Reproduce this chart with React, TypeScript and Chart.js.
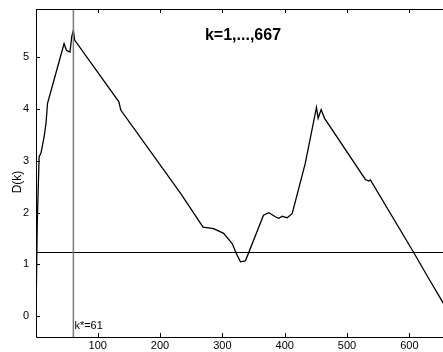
import React, { useEffect, useRef } from "react";
import { Chart, registerables } from "chart.js";

Chart.register(...registerables);

const kValues = [1, 3, 6, 9, 14, 17, 19.5, 46, 50, 55.5, 58.3, 61, 63, 134, 137, 233, 269, 286, 302, 316, 322, 329, 337, 366, 374.5, 385, 390.6, 396, 404, 412, 433, 451, 453.7, 458.5, 464, 529.5, 535, 537.5, 607, 632.5, 667];
const dValues = [0, 1.8, 3.08, 3.15, 3.46, 3.72, 4.11, 5.26, 5.13, 5.1, 5.39, 5.52, 5.33, 4.14, 3.98, 2.37, 1.72, 1.69, 1.6, 1.4, 1.22, 1.05, 1.07, 1.95, 2.0, 1.92, 1.89, 1.93, 1.9, 1.98, 2.95, 4.03, 3.82, 3.99, 3.82, 2.64, 2.61, 2.63, 1.23, 0.7, 0.0];
const xTicks = [100, 200, 300, 400, 500, 600];
const yTicks = [0, 1, 2, 3, 4, 5];
const kStar = 61;
const threshold = 1.236;
const titleText = "k=1,...,667";
const kStarLabel = "k*=61";
const yAxisLabel = "D(k)";

const FONT = "'Liberation Sans', Arial, Helvetica, sans-serif";

export default function App() {
  const ref = useRef<HTMLCanvasElement | null>(null);
  useEffect(() => {
    const canvas = ref.current;
    if (!canvas) return;
    const overlay = {
      id: "overlay",
      afterDraw(chart: any) {
        const ctx = chart.ctx;
        const xs = chart.scales.x;
        const ys = chart.scales.y;
        const a = chart.chartArea;
        ctx.save();
        // threshold line
        ctx.strokeStyle = "#000";
        ctx.lineWidth = 1;
        const hy = Math.round(ys.getPixelForValue(threshold)) + 0.5;
        ctx.beginPath();
        ctx.moveTo(a.left, hy);
        ctx.lineTo(a.right, hy);
        ctx.stroke();
        // k* vertical
        ctx.strokeStyle = "#7a7a7a";
        ctx.lineWidth = 1.5;
        const vx = xs.getPixelForValue(kStar);
        ctx.beginPath();
        ctx.moveTo(vx, a.top);
        ctx.lineTo(vx, a.bottom);
        ctx.stroke();
        // axes border
        ctx.strokeStyle = "#000";
        ctx.lineWidth = 1;
        ctx.beginPath();
        ctx.moveTo(a.left + 0.5, a.top + 0.5);
        ctx.lineTo(a.right, a.top + 0.5);
        ctx.moveTo(a.left + 0.5, a.top);
        ctx.lineTo(a.left + 0.5, a.bottom + 0.5);
        ctx.lineTo(a.right, a.bottom + 0.5);
        ctx.stroke();
        // ticks
        ctx.beginPath();
        xTicks.forEach((v) => {
          const px = Math.round(xs.getPixelForValue(v)) + 0.5;
          ctx.moveTo(px, a.bottom);
          ctx.lineTo(px, a.bottom - 4);
          ctx.moveTo(px, a.top);
          ctx.lineTo(px, a.top + 4);
        });
        yTicks.forEach((v) => {
          const py = Math.round(ys.getPixelForValue(v)) + 0.5;
          ctx.moveTo(a.left, py);
          ctx.lineTo(a.left + 4, py);
        });
        ctx.stroke();
        // tick labels
        ctx.fillStyle = "#000";
        ctx.font = "11px " + FONT;
        ctx.textAlign = "center";
        ctx.textBaseline = "middle";
        xTicks.forEach((v) => {
          ctx.fillText(String(v), xs.getPixelForValue(v), a.bottom + 9);
        });
        ctx.textAlign = "right";
        yTicks.forEach((v) => {
          ctx.fillText(String(v), a.left - 7, ys.getPixelForValue(v));
        });
        // k* label
        ctx.textAlign = "left";
        ctx.textBaseline = "alphabetic";
        ctx.fillText(kStarLabel, vx + 1, a.bottom - 8);
        // title
        ctx.font = "bold 16px " + FONT;
        ctx.textAlign = "center";
        ctx.fillText(titleText, 243, 40);
        // y label
        ctx.font = "12px " + FONT;
        ctx.translate(18, 182);
        ctx.rotate(-Math.PI / 2);
        ctx.textAlign = "center";
        ctx.textBaseline = "middle";
        ctx.fillText(yAxisLabel, 0, 0);
        ctx.restore();
      },
    };
    const chart = new Chart(canvas, {
      type: "line",
      data: {
        datasets: [
          {
            data: kValues.map((k, i) => ({ x: k, y: dValues[i] })),
            borderColor: "#000",
            borderWidth: 1.3,
            pointRadius: 0,
            tension: 0,
            fill: false,
          },
        ],
      },
      options: {
        animation: false,
        responsive: false,
        maintainAspectRatio: false,
        layout: { padding: { top: 9, left: 0, right: 0, bottom: 0 } },
        plugins: { legend: { display: false }, tooltip: { enabled: false }, title: { display: false } },
        scales: {
          x: {
            type: "linear",
            min: 1,
            max: 654,
            grid: { display: false },
            border: { display: false },
            ticks: { display: false },
            afterFit: (s: any) => {
              s.height = 15;
            },
          },
          y: {
            type: "linear",
            min: -0.4,
            max: 5.93,
            grid: { display: false },
            border: { display: false },
            ticks: { display: false },
            afterFit: (s: any) => {
              s.width = 36;
            },
          },
        },
      },
      plugins: [overlay],
    } as any);
    return () => chart.destroy();
  }, []);
  return (
    <div style={{ position: "fixed", left: 0, top: 0, width: 443, height: 352, background: "#fff" }}>
      <canvas ref={ref} width={443} height={352} style={{ display: "block", width: 443, height: 352 }} />
    </div>
  );
}
